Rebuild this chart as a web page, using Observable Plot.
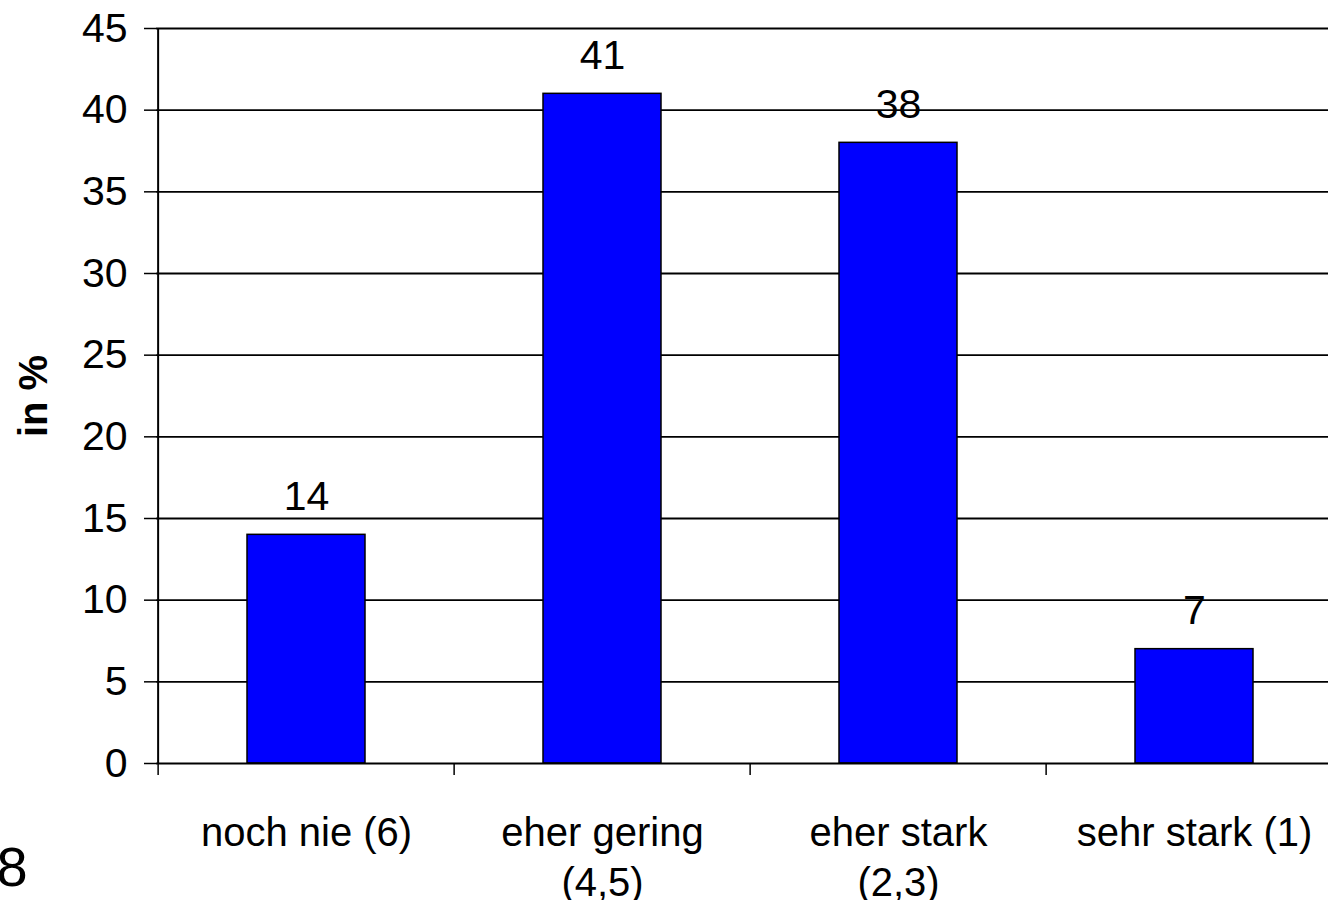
<!DOCTYPE html>
<html>
<head>
<meta charset="utf-8">
<script src="https://cdn.jsdelivr.net/npm/d3@7"></script>
<script src="https://cdn.jsdelivr.net/npm/@observablehq/plot@0.6"></script>
<style>
  html, body { margin: 0; padding: 0; background: #fff; overflow: hidden; }
  #wrap { width: 1328px; height: 900px; overflow: hidden; position: relative; }
</style>
</head>
<body>
<div id="wrap"></div>
<script>
const categories = ["noch nie (6)", "eher gering\n(4,5)", "eher stark\n(2,3)", "sehr stark (1)"];
const values = [14, 41, 38, 7];
const yTicks = [0, 5, 10, 15, 20, 25, 30, 35, 40, 45];
const yLabel = "in %";
const pageNumber = ["8"];

const data = categories.map((c, i) => ({category: c, value: values[i]}));

const width = 1360, marginLeft = 156, marginRight = 17;
const step = (width - marginLeft - marginRight) / categories.length;

const font = "'Liberation Sans', Arial, sans-serif";

const chart = Plot.plot({
  width,
  height: 900,
  marginLeft,
  marginRight,
  marginTop: 28,
  marginBottom: 137,
  style: {fontFamily: font, maxWidth: "none", background: "#fff", color: "#000"},
  x: {type: "band", domain: categories, padding: 0, axis: null},
  y: {domain: [0, 45], axis: null},
  marks: [
    Plot.gridY(yTicks.filter(d => d > 0), {stroke: "#000", strokeOpacity: 1, strokeWidth: 1.8}),
    Plot.barY(data, {x: "category", y: "value", fill: "#0000ff", stroke: "#000", strokeWidth: 1.5, insetLeft: 89, insetRight: 89}),
    Plot.ruleY([0], {stroke: "#000", strokeWidth: 2}),
    Plot.ruleX([categories[0]], {dx: -step / 2, stroke: "#000", strokeWidth: 2}),
    Plot.ruleX(categories, {y1: 0, y2: 0, dx: -step / 2, insetBottom: -12, stroke: "#000", strokeWidth: 1.5}),
    Plot.axisY(yTicks, {tickSize: 12, tickPadding: 17, fontSize: 41, label: null, stroke: "#000", strokeWidth: 1.5}),
    Plot.axisX(categories, {tickSize: 0, tickPadding: 47, fontSize: 40, lineHeight: 1.25, label: null}),
    Plot.text(data, {x: "category", y: "value", text: d => String(d.value), dy: -25, lineAnchor: "bottom", fontSize: 41, fill: "#000"}),
    Plot.text([yLabel], {frameAnchor: "left", dx: -122, rotate: -90, textAnchor: "middle", lineAnchor: "middle", fontSize: 40, fontWeight: "bold", fill: "#000"}),
    Plot.text(pageNumber, {frameAnchor: "bottom-left", dx: -160, dy: 122, textAnchor: "start", lineAnchor: "bottom", fontSize: 56, fill: "#000"})
  ]
});
document.getElementById("wrap").appendChild(chart);
</script>
</body>
</html>
